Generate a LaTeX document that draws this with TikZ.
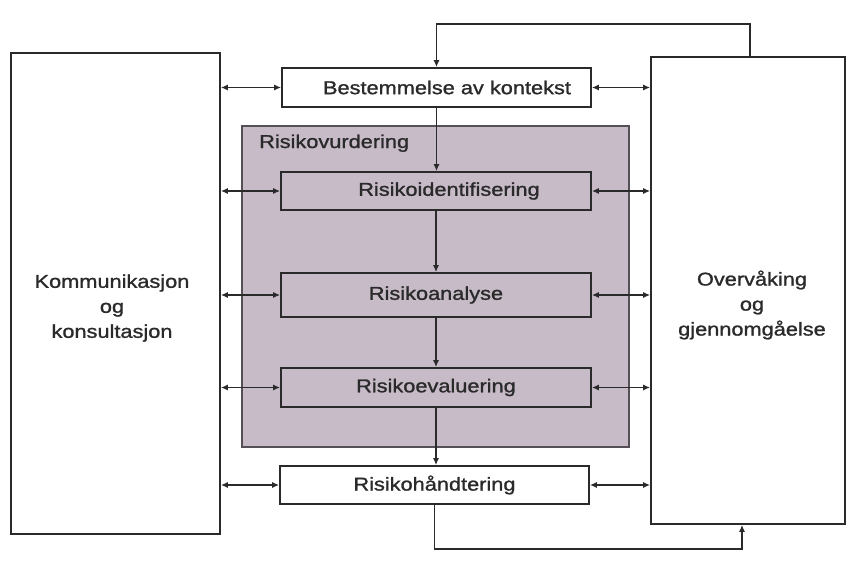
\documentclass[tikz,border=0pt]{standalone}
\usepackage{fontspec}
\setmainfont{Liberation Sans}[FakeStretch=1.17,FakeBold=1.2]
\usetikzlibrary{arrows.meta}
\definecolor{lilac}{HTML}{C6BBC7}
\definecolor{ink}{HTML}{2A2A2A}
\definecolor{rim}{HTML}{555055}
\begin{document}
\begin{tikzpicture}[x=1pt,y=-1pt,
  frame/.style={draw=ink, line width=1.7pt, inner sep=0pt, fill=white},
  stepbox/.style={draw=ink, line width=1.7pt, inner sep=0pt, fill=lilac},
  txt/.style={font=\fontsize{18.6}{25}\selectfont, text=ink, align=center},
  link/.style={draw=ink, line width=1.9pt, {Latex[length=7pt,width=6pt]}-{Latex[length=7pt,width=6pt]}},
  flow/.style={draw=ink, line width=1.3pt, -{Latex[length=7pt,width=6pt]}}
]
\useasboundingbox (0,0) rectangle (862,568);

% side boxes
\node[frame, minimum width=209pt, minimum height=481pt] (L) at (115.5,293.5) {};
\node[frame, minimum width=194pt, minimum height=467pt] (R) at (748,290.5) {};
\node[txt, inner sep=0pt] (LT) at (112,308) {Kommunikasjon\\og\\konsultasjon};
\node[txt, inner sep=0pt] (RT) at (752,305) {Overvåking\\og\hspace*{22pt}\\gjennomgåelse};

% risk assessment area
\node[draw=rim, line width=1.5pt, fill=lilac, minimum width=387pt, minimum height=321pt] (P) at (435.5,286.5) {};
\node[txt, anchor=base west, inner sep=0pt] (PT) at (259,148) {Risikovurdering};

% process boxes
\node[frame, txt, minimum width=309pt, minimum height=39pt] (Ctx) at (436.5,87.5) {\hspace*{21pt}Bestemmelse av kontekst};
\node[stepbox, txt, minimum width=310pt, minimum height=38pt] (Id) at (436,191) {\hspace*{26pt}Risikoidentifisering};
\node[stepbox, txt, minimum width=310pt, minimum height=44pt] (An) at (436,295) {Risikoanalyse};
\node[stepbox, txt, minimum width=310pt, minimum height=39pt] (Ev) at (436,387.5) {Risikoevaluering};
\node[frame, txt, minimum width=309pt, minimum height=38pt] (Ha) at (434.5,485) {Risikohåndtering};

% flow down
\draw[flow] (Ctx.south) -- (Ctx.south |- Id.north);
\draw[flow] (Id.south) -- (Id.south |- An.north);
\draw[flow] (An.south) -- (An.south |- Ev.north);
\draw[flow] (Ev.south) -- (Ev.south |- Ha.north);

% two-way links to the side boxes
\foreach \n in {Ctx,Id,An,Ev,Ha}{
  \draw[link] (\n.west -| L.east) -- (\n.west);
  \draw[link] (\n.east) -- (\n.east -| R.west);
}

% feedback loops
\coordinate (tl) at (0,24);
\coordinate (bl) at (0,549);
\draw[flow] ([xshift=2pt]R.north) -- ([xshift=2pt]R.north |- tl) -| (Ctx.north);
\draw[flow] (Ha.south) -- (Ha.south |- bl) -| ([xshift=-6pt]R.south);
\end{tikzpicture}
\end{document}
